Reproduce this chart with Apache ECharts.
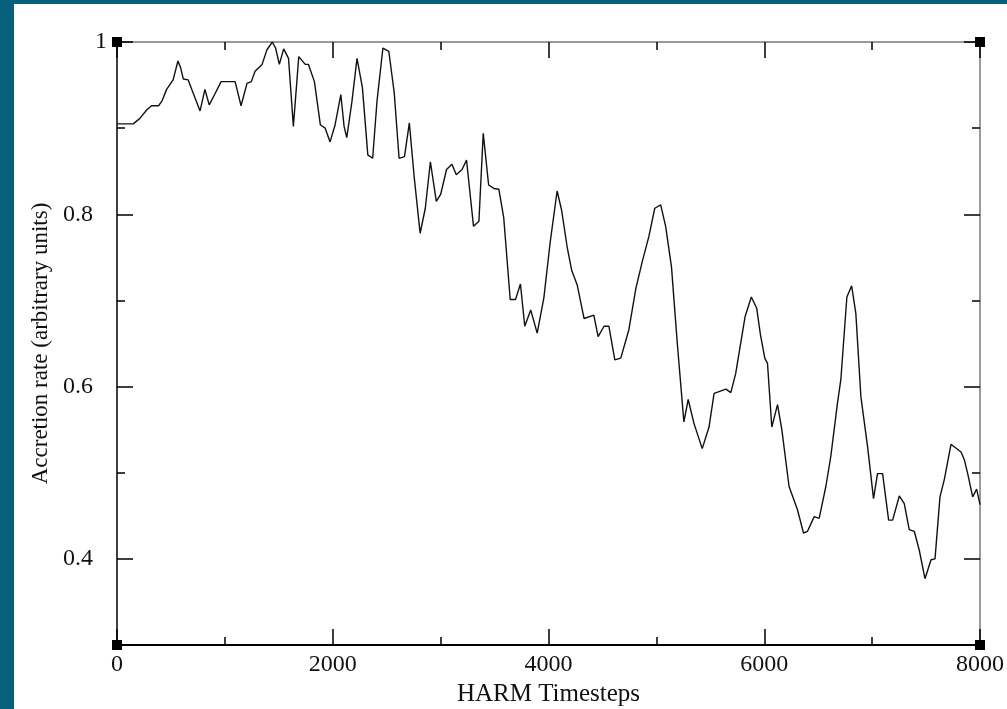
<!DOCTYPE html>
<html>
<head>
<meta charset="utf-8">
<script src="https://cdn.jsdelivr.net/npm/echarts@6/dist/echarts.min.js"></script>
<style>
  html, body { margin: 0; padding: 0; background: #05607c; }
  #panel { position: absolute; left: 14px; top: 4px; width: 993px; height: 705px; background: #ffffff; }
  #chart { position: absolute; left: 0; top: 0; width: 1007px; height: 709px; }
</style>
</head>
<body>
<div id="panel"></div>
<div id="chart"></div>
<script>
// ---- data ----
const timesteps = [
  0, 150, 210, 275, 320, 385, 415, 460, 520, 565, 590, 615, 660, 705, 770, 815, 855, 905, 965,
  1095, 1150, 1205, 1245, 1280, 1345, 1390, 1440, 1470, 1505, 1545, 1590, 1635, 1685, 1745, 1775,
  1830, 1885, 1930, 1975, 2020, 2075, 2105, 2130, 2178, 2225, 2275, 2325, 2370, 2410, 2465, 2520,
  2570, 2615, 2665, 2710, 2756, 2810, 2858, 2905, 2960, 3000, 3055, 3105, 3145, 3199, 3240, 3305,
  3355, 3395, 3445, 3493, 3540, 3585, 3645, 3694, 3740, 3780, 3835, 3895, 3957, 4015, 4080, 4121,
  4173, 4215, 4266, 4330, 4420, 4460, 4515, 4560, 4615, 4670, 4745, 4810, 4869, 4930, 4985, 5040,
  5086, 5140, 5194, 5255, 5295, 5349, 5425, 5488, 5535, 5645, 5690, 5735, 5822, 5880, 5930, 5965,
  6005, 6030, 6070, 6123, 6163, 6230, 6308, 6364, 6401, 6463, 6509, 6571, 6617, 6679, 6710, 6766,
  6810, 6849, 6896, 6958, 7013, 7050, 7097, 7153, 7190, 7252, 7298, 7344, 7391, 7437, 7490, 7546,
  7583, 7629, 7669, 7731, 7824, 7855, 7886, 7932, 7969, 8000
];
const accretionRate = [
  0.905, 0.905, 0.911, 0.921, 0.926, 0.926, 0.931, 0.945, 0.956, 0.978, 0.970, 0.957, 0.956, 0.941, 0.920, 0.945, 0.927, 0.939, 0.954,
  0.954, 0.926, 0.952, 0.954, 0.966, 0.974, 0.991, 1.000, 0.993, 0.974, 0.992, 0.981, 0.902, 0.983, 0.974, 0.974,
  0.954, 0.904, 0.900, 0.884, 0.903, 0.939, 0.902, 0.889, 0.931, 0.981, 0.947, 0.869, 0.865, 0.931, 0.993, 0.989,
  0.941, 0.865, 0.867, 0.906, 0.842, 0.778, 0.807, 0.861, 0.815, 0.823, 0.852, 0.858, 0.846, 0.852, 0.863, 0.786,
  0.792, 0.894, 0.834, 0.830, 0.829, 0.796, 0.701, 0.701, 0.719, 0.670, 0.689, 0.662, 0.703, 0.767, 0.827, 0.805,
  0.762, 0.735, 0.718, 0.679, 0.683, 0.658, 0.670, 0.670, 0.631, 0.633, 0.666, 0.714, 0.745, 0.774, 0.807, 0.811,
  0.786, 0.739, 0.650, 0.559, 0.585, 0.557, 0.528, 0.553, 0.592, 0.597, 0.593, 0.615, 0.681, 0.704, 0.691, 0.660,
  0.633, 0.627, 0.553, 0.579, 0.550, 0.484, 0.457, 0.430, 0.432, 0.449, 0.447, 0.484, 0.519, 0.581, 0.608, 0.704,
  0.717, 0.685, 0.588, 0.530, 0.470, 0.499, 0.499, 0.445, 0.445, 0.473, 0.464, 0.434, 0.432, 0.410, 0.377, 0.399,
  0.400, 0.472, 0.492, 0.533, 0.524, 0.515, 0.499, 0.472, 0.481, 0.463
];
const xRange = [0, 8000];
const xMajorStep = 2000;
const yRange = [0.3, 1];
const yMajorTicks = [0.4, 0.6, 0.8, 1];
const yMinorTicks = [0.3, 0.5, 0.7, 0.9];
const yLabelsLower = [0.4, 0.6, 0.8];
const yLabelTop = [1];
const cornerX = [0, 8000, 0, 8000];
const cornerY = [1, 1, 0.3, 0.3];
const xTitle = 'HARM Timesteps';
const yTitle = 'Accretion rate (arbitrary units)';

const lineData = timesteps.map((t, i) => [t, accretionRate[i]]);
const cornerData = cornerX.map((x, i) => [x, cornerY[i]]);

const FONT = 'Liberation Serif';
const tickStyle = { color: '#000', width: 1.5 };
const fmt = v => String(+(+v).toFixed(2));

function xAx(pos, showLabel, lineColor, lineWidth) {
  return {
    type: 'value', position: pos, min: xRange[0], max: xRange[1], interval: xMajorStep,
    axisLine: { show: true, onZero: false, lineStyle: { color: lineColor, width: lineWidth } },
    axisTick: { show: true, inside: true, length: 16, lineStyle: tickStyle },
    minorTick: { show: true, splitNumber: 2, length: 8, lineStyle: tickStyle },
    axisLabel: { show: showLabel, fontFamily: FONT, fontSize: 24, color: '#111', margin: 8, formatter: fmt },
    splitLine: { show: false },
    name: showLabel ? xTitle : '', nameLocation: 'middle', nameGap: 33,
    nameTextStyle: { fontFamily: FONT, fontSize: 25, color: '#111', verticalAlign: 'top' }
  };
}
function yAx(pos, ticks, len, labels, margin, showLine, lineColor, lineWidth, title) {
  return {
    type: 'value', position: pos, min: yRange[0], max: yRange[1],
    axisLine: { show: showLine, onZero: false, lineStyle: { color: lineColor, width: lineWidth } },
    axisTick: { show: true, inside: true, length: len, customValues: ticks, lineStyle: tickStyle },
    axisLabel: { show: !!labels, customValues: labels || [], fontFamily: FONT, fontSize: 24, color: '#111',
                 margin: margin, formatter: fmt },
    splitLine: { show: false },
    name: title || '', nameLocation: 'middle', nameGap: 64,
    nameTextStyle: { fontFamily: FONT, fontSize: 23, color: '#111' }
  };
}

const chart = echarts.init(document.getElementById('chart'), null, { renderer: 'canvas' });
chart.setOption({
  backgroundColor: 'transparent',
  animation: false,
  grid: { left: 117, right: 27, top: 42, bottom: 64, containLabel: false, outerBoundsMode: 'none' },
  xAxis: [
    xAx('bottom', true, '#000', 2),
    xAx('top', false, '#7a7a7a', 1.5)
  ],
  yAxis: [
    yAx('left', yMajorTicks, 16, yLabelsLower, 24, true, '#000', 1.5, yTitle),
    yAx('left', yMinorTicks, 8, yLabelTop, 10, false, '#000', 1.5),
    yAx('right', yMajorTicks, 16, null, 0, true, '#7a7a7a', 1.5),
    yAx('right', yMinorTicks, 8, null, 0, false, '#000', 1.5)
  ],
  series: [
    {
      type: 'line', xAxisIndex: 0, yAxisIndex: 0, data: lineData,
      showSymbol: false, symbol: 'none', smooth: false,
      lineStyle: { color: '#111', width: 1.4 }, z: 3
    },
    {
      type: 'scatter', xAxisIndex: 0, yAxisIndex: 0, data: cornerData,
      symbol: 'rect', symbolSize: 10, itemStyle: { color: '#000', opacity: 1 }, clip: false, z: 5, silent: true
    }
  ]
});
</script>
</body>
</html>
